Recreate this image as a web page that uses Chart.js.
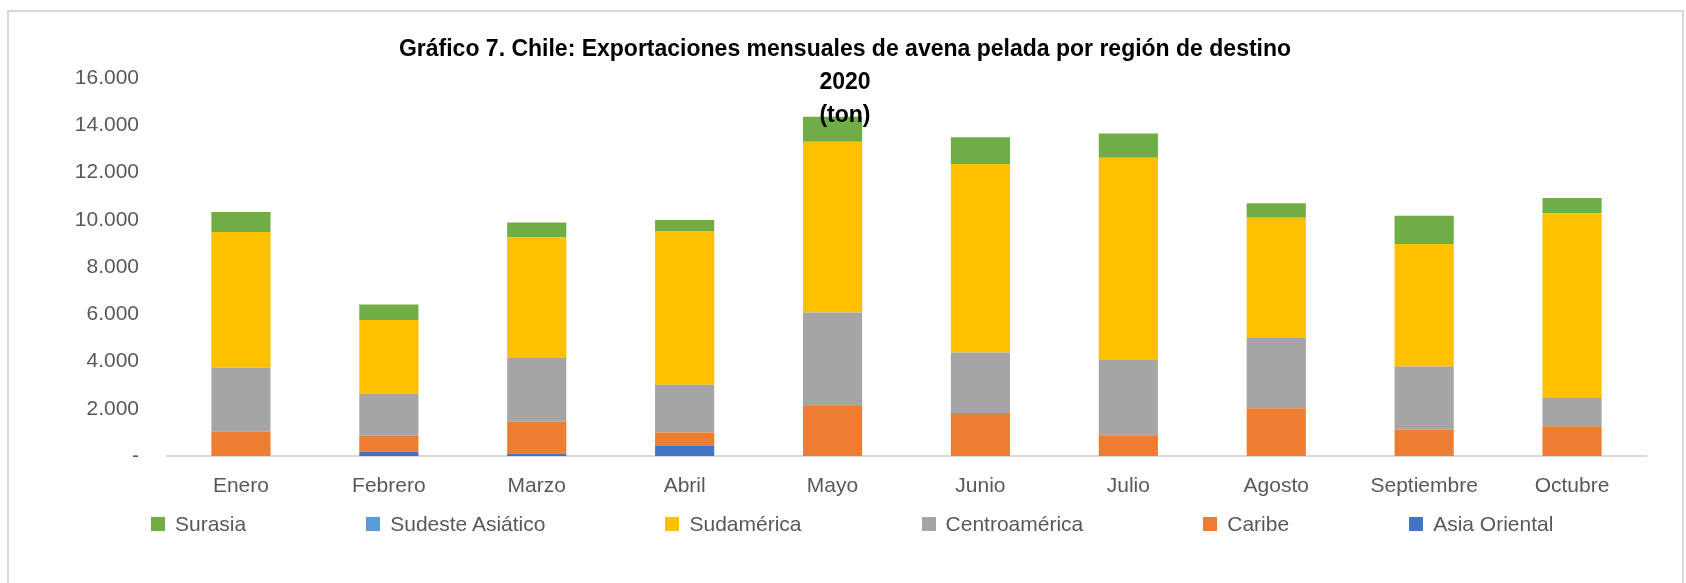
<!DOCTYPE html>
<html>
<head>
<meta charset="utf-8">
<script src="https://cdn.jsdelivr.net/npm/chart.js@4"></script>
<style>
  body { margin: 0; background: #fff; overflow: hidden; }
  #wrap { position: relative; width: 1686px; height: 583px; overflow: hidden; }
  #frame { position: absolute; left: 7px; top: 10px; width: 1677px; height: 640px;
    box-sizing: border-box; border: 2px solid #D9D9D9; pointer-events: none; }
  #title { position: absolute; left: 2px; top: 32px; width: 1686px; text-align: center;
    font: bold 23px "Liberation Sans", Arial, sans-serif; line-height: 33px; color: #000; }
  #legend { position: absolute; left: 151px; top: 512px; display: flex; gap: 120px;
    font: 21px "Liberation Sans", Arial, sans-serif; line-height: 24px; color: #595959; }
  #legend span.item { display: flex; align-items: center; white-space: nowrap; }
  #legend span.box { width: 14px; height: 14px; margin-right: 10px; display: inline-block; }
</style>
</head>
<body>
<div id="wrap">
  <canvas id="chart" width="1686" height="583"></canvas>
  <div id="frame"></div>
  <div id="title">Gráfico 7. Chile: Exportaciones mensuales de avena pelada por región de destino<br>2020<br>(ton)</div>
  <div id="legend"></div>
</div>
<script>
const months = ['Enero', 'Febrero', 'Marzo', 'Abril', 'Mayo', 'Junio', 'Julio', 'Agosto', 'Septiembre', 'Octubre'];

// toneladas, de abajo hacia arriba en cada barra
const asiaOriental   = [0, 180, 100, 440, 0, 0, 0, 0, 0, 0];
const caribe         = [1040, 680, 1350, 550, 2120, 1820, 880, 2020, 1120, 1260];
const centroamerica  = [2700, 1780, 2700, 2030, 3950, 2560, 3180, 2980, 2670, 1200];
const sudamerica     = [5740, 3120, 5100, 6500, 7230, 7980, 8560, 5085, 5180, 7810];
const sudesteAsiatico = [0, 0, 0, 0, 0, 0, 0, 0, 0, 0];
const surasia        = [850, 650, 630, 470, 1060, 1130, 1030, 610, 1200, 650];

const yMax = 16000;
const yStep = 2000;

Chart.defaults.font.family = '"Liberation Sans", Arial, sans-serif';
Chart.defaults.font.size = 21;
Chart.defaults.color = '#595959';

const fmt = v => v === 0 ? '-' : String(v).replace(/\B(?=(\d{3})+(?!\d))/g, '.');

const chart = new Chart(document.getElementById('chart').getContext('2d'), {
  type: 'bar',
  data: {
    labels: months,
    datasets: [
      { label: 'Asia Oriental', data: asiaOriental, backgroundColor: '#4472C4' },
      { label: 'Caribe', data: caribe, backgroundColor: '#ED7D31' },
      { label: 'Centroamérica', data: centroamerica, backgroundColor: '#A5A5A5' },
      { label: 'Sudamérica', data: sudamerica, backgroundColor: '#FFC000' },
      { label: 'Sudeste Asiático', data: sudesteAsiatico, backgroundColor: '#5B9BD5' },
      { label: 'Surasia', data: surasia, backgroundColor: '#70AD47' },
    ]
  },
  options: {
    responsive: false,
    animation: false,
    layout: { padding: { left: 0, right: 40, top: 78, bottom: 82 } },
    datasets: { bar: { categoryPercentage: 1, barPercentage: 0.4 } },
    plugins: {
      legend: { display: false },
      title: { display: false },
      tooltip: { enabled: false }
    },
    scales: {
      x: {
        stacked: true,
        grid: { display: false, drawTicks: false },
        border: { color: '#D9D9D9', width: 2 },
        ticks: { padding: 18, maxRotation: 0 },
        afterFit: scale => { scale.height = 45; }
      },
      y: {
        stacked: true,
        min: 0,
        max: yMax,
        grid: { display: false, drawTicks: false },
        border: { display: false },
        ticks: { stepSize: yStep, padding: 28, callback: v => fmt(v) },
        afterFit: scale => { scale.width = 167; }
      }
    }
  }
});

// leyenda en HTML, en el orden inverso al apilado
const items = Chart.defaults.plugins.legend.labels.generateLabels(chart).reverse();
document.getElementById('legend').innerHTML = items.map(it =>
  `<span class="item"><span class="box" style="background:${it.fillStyle}"></span>${it.text}</span>`
).join('');
</script>
</body>
</html>
